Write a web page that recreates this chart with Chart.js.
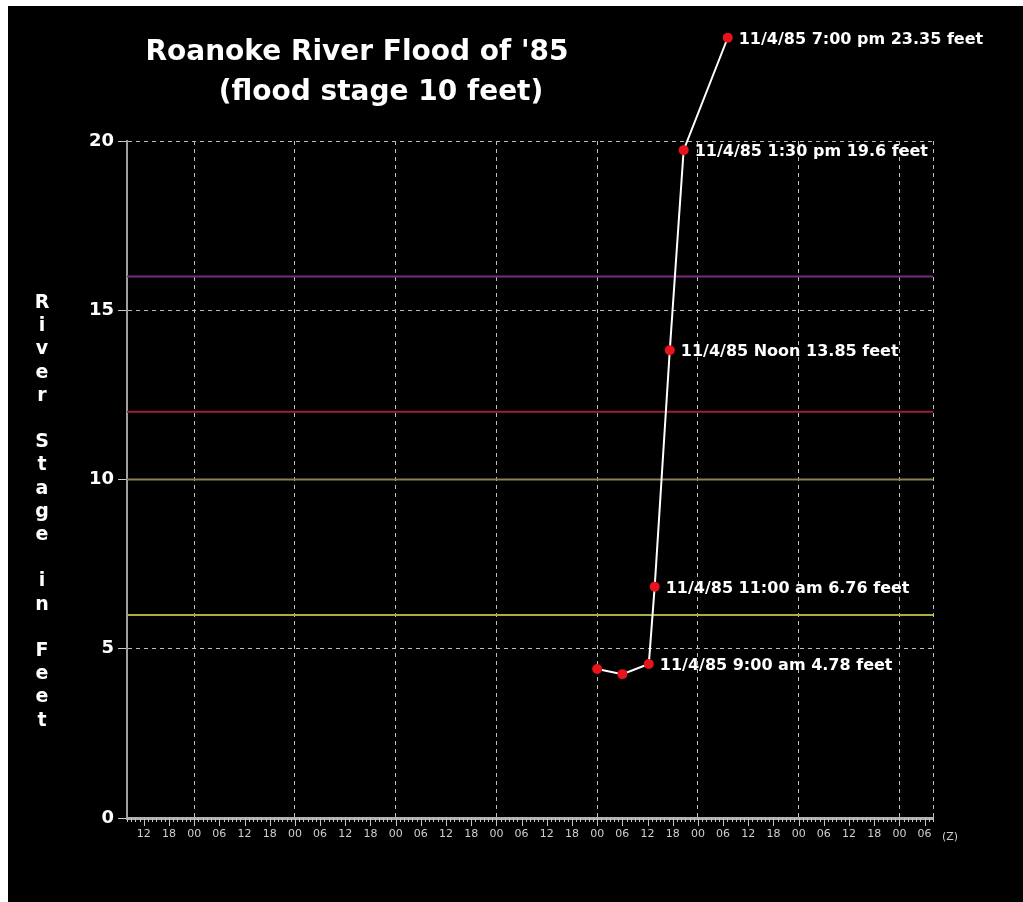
<!DOCTYPE html>
<html>
<head>
<meta charset="utf-8">
<script src="https://cdn.jsdelivr.net/npm/chart.js@4.4.0/dist/chart.umd.min.js"></script>
<style>
  html, body { margin: 0; padding: 0; background: #fff; }
  #wrap { position: absolute; left: 8px; top: 6px; width: 1015px; height: 896px; background: #000; }
</style>
</head>
<body>
<div id="wrap"><canvas id="floodChart"></canvas></div>
<script>
// hours counted from 08:00 Z on the first day shown (8 days on the axis)
const stageHours = [112, 118, 124.3, 125.7, 129.3, 132.6, 143.1];
const stageFeet = [4.4, 4.25, 4.55, 6.83, 13.82, 19.73, 23.05];
const pointNotes = [
    '', '',
    '11/4/85 9:00 am 4.78 feet',
    '11/4/85 11:00 am 6.76 feet',
    '11/4/85 Noon 13.85 feet',
    '11/4/85 1:30 pm 19.6 feet',
    '11/4/85 7:00 pm 23.35 feet'
];

// stage reference lines
const levelFeet = [16, 12, 10, 6];
const levelColors = ['#7d2a82', '#9c2233', '#8f8058', '#a9b03e'];

// x tick labels every 6 hours, first one at hour 4 (12Z)
const tickLabels = [
    '12','18','00','06', '12','18','00','06', '12','18','00','06', '12','18','00','06',
    '12','18','00','06', '12','18','00','06', '12','18','00','06', '12','18','00','06'
];
const firstLabelHour = 4;
const labelStep = 6;
const axisHours = 192;

const yTitle = 'River Stage in Feet';
const POINT_RED = '#e8141b';

function labelFor(v) {
    const k = (v - firstLabelHour) / labelStep;
    if (!Number.isInteger(k) || k < 0 || k >= tickLabels.length) return '';
    return tickLabels[k];
}

const overlay = {
    id: 'overlay',
    afterDatasetsDraw(chart) {
        // points above the plot area are skipped by chart.js, draw them here
        const ctx = chart.ctx;
        const area = chart.chartArea;
        ctx.save();
        ctx.fillStyle = POINT_RED;
        chart.getDatasetMeta(0).data.forEach(el => {
            if (el.y >= area.top - 5) return;
            ctx.beginPath();
            ctx.arc(el.x, el.y, 5, 0, Math.PI * 2);
            ctx.fill();
        });
        ctx.restore();
    },
    afterDraw(chart) {
        const ctx = chart.ctx;
        const xs = chart.scales.x, ys = chart.scales.y;
        ctx.save();

        // hour ticks under the axis
        ctx.strokeStyle = '#c4c4c4';
        ctx.lineWidth = 1;
        xs.ticks.forEach(t => {
            const px = Math.round(xs.getPixelForValue(t.value)) + 0.5;
            const len = labelFor(t.value) ? 8 : 4;
            ctx.beginPath();
            ctx.moveTo(px, ys.bottom);
            ctx.lineTo(px, ys.bottom + len);
            ctx.stroke();
        });

        // (Z) after last label
        ctx.fillStyle = '#cfcfcf';
        ctx.font = '11px "DejaVu Sans"';
        ctx.textAlign = 'center';
        ctx.textBaseline = 'middle';
        ctx.fillText('(Z)', xs.getPixelForValue(axisHours) + 17, ys.bottom + 19);

        // point notes
        const meta = chart.getDatasetMeta(0);
        ctx.fillStyle = '#ffffff';
        ctx.font = 'bold 16px "DejaVu Sans"';
        ctx.textAlign = 'left';
        pointNotes.forEach((txt, i) => {
            if (!txt) return;
            const el = meta.data[i];
            ctx.fillText(txt, el.x + 11, el.y + 2);
        });

        // title
        ctx.font = 'bold 28px "DejaVu Sans"';
        ctx.textAlign = 'center';
        ctx.fillText("Roanoke River Flood of '85", 349, 47);
        ctx.fillText('(flood stage 10 feet)', 373, 87);

        // stacked y title
        ctx.font = 'bold 19px "DejaVu Sans"';
        yTitle.split('').forEach((ch, i) => {
            ctx.fillText(ch, 34, 297 + i * 23.2);
        });
        ctx.restore();
    }
};

const datasets = [{
    data: stageHours.map((h, i) => ({ x: h, y: stageFeet[i] })),
    borderColor: '#ffffff',
    borderWidth: 2,
    pointRadius: 5,
    pointBackgroundColor: POINT_RED,
    pointBorderWidth: 0,
    clip: false,
    tension: 0
}];
levelFeet.forEach((lv, i) => {
    datasets.push({
        data: [{ x: 0, y: lv }, { x: axisHours, y: lv }],
        borderColor: levelColors[i],
        borderWidth: 2,
        pointRadius: 0
    });
});

const ctx = document.getElementById('floodChart').getContext('2d');
const floodChart = new Chart(ctx, {
    type: 'line',
    data: { datasets: datasets },
    options: {
        responsive: true,
        maintainAspectRatio: false,
        animation: false,
        layout: { padding: { left: 59, right: 90, top: 135, bottom: 44 } },
        scales: {
            x: {
                type: 'linear',
                min: 0,
                max: axisHours,
                afterFit: s => { s.height = 40; },
                ticks: {
                    stepSize: 1,
                    autoSkip: false,
                    maxRotation: 0,
                    padding: 10,
                    color: '#cfcfcf',
                    font: { family: 'DejaVu Sans', size: 11 },
                    callback: v => labelFor(v)
                },
                grid: {
                    drawTicks: false,
                    color: c => {
                        const v = c.tick ? c.tick.value : 0;
                        return ((v - 16) % 24 === 0 || v === axisHours) ? '#bdbdbd' : 'transparent';
                    },
                    lineWidth: 1
                },
                border: { color: '#b0b0b0', width: 3, dash: [4, 4] }
            },
            y: {
                min: 0,
                max: 20,
                afterFit: s => { s.width = 60; },
                ticks: {
                    stepSize: 5,
                    padding: 4,
                    color: '#ffffff',
                    font: { family: 'DejaVu Sans', size: 18, weight: 'bold' }
                },
                grid: {
                    color: c => (c.tick && c.tick.value === 0) ? 'transparent' : '#bdbdbd',
                    tickColor: '#cccccc',
                    tickLength: 9,
                    lineWidth: 1
                },
                border: { color: '#a0a0a0', width: 2, dash: [4, 4] }
            }
        },
        plugins: {
            legend: { display: false },
            tooltip: { enabled: false },
            title: { display: false }
        }
    },
    plugins: [overlay]
});
</script>
</body>
</html>
